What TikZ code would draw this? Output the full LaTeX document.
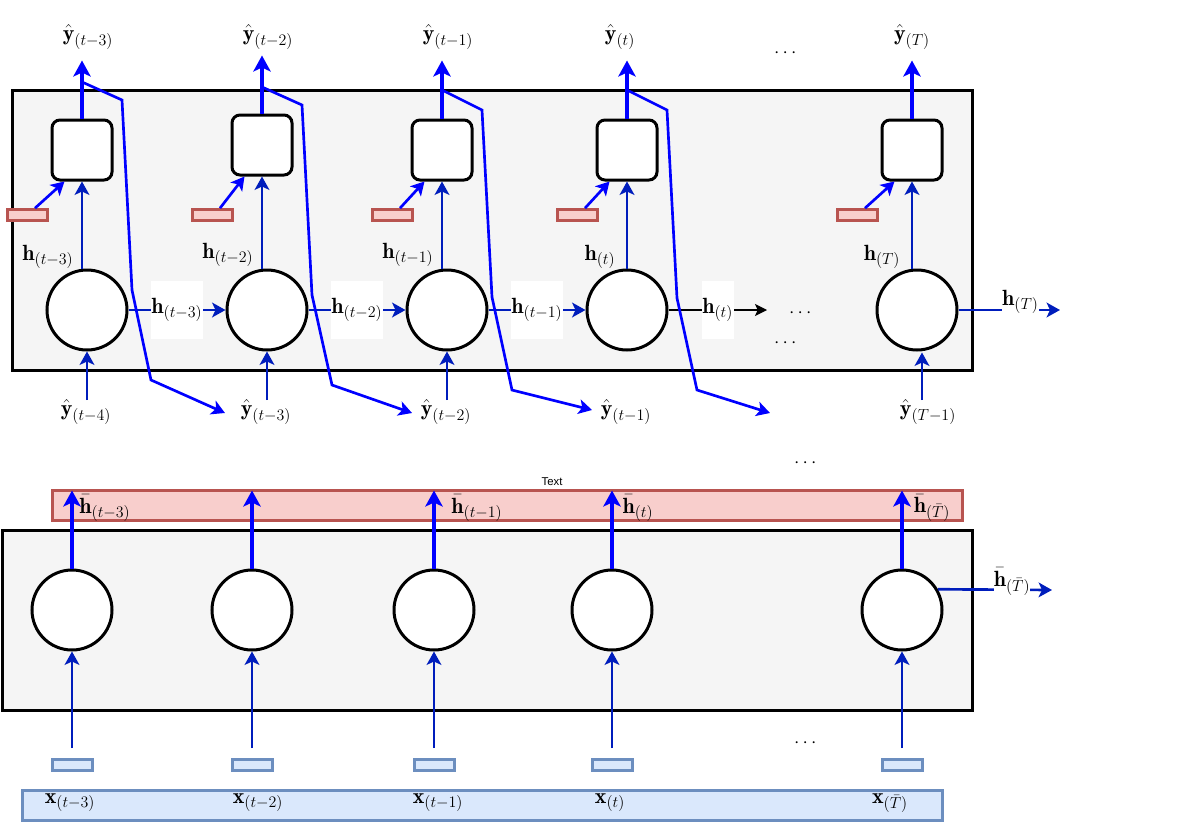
\documentclass[tikz,border=0pt]{standalone}
\usepackage{amsmath}
\usepackage{fontspec}
\newfontfamily\labelsans{Liberation Sans}
\usetikzlibrary{arrows.meta,calc}
\DeclareMathSizes{16.5}{16.5}{11.8}{8.5}

\definecolor{frameFill}{HTML}{F5F5F5}
\definecolor{redFill}{HTML}{F8CECC}
\definecolor{redLine}{HTML}{B85450}
\definecolor{blueFill}{HTML}{DAE8FC}
\definecolor{blueLine}{HTML}{6C8EBF}
\definecolor{darkBlue}{HTML}{001DBC}
\definecolor{pureBlue}{HTML}{0000FF}

\tikzset{
  frame/.style={draw=black, line width=2.25pt, fill=frameFill},
  cell/.style={circle, draw=black, line width=2.25pt, fill=white, minimum size=60pt, inner sep=0pt},
  gate/.style={rectangle, rounded corners=6pt, draw=black, line width=2.25pt, fill=white, minimum size=45pt, inner sep=0pt},
  redtok/.style={rectangle, draw=redLine, fill=redFill, line width=2.25pt, minimum width=30pt, minimum height=8pt, inner sep=0pt},
  bluetok/.style={rectangle, draw=blueLine, fill=blueFill, line width=2.25pt, minimum width=30pt, minimum height=8pt, inner sep=0pt},
  redbar/.style={rectangle, draw=redLine, fill=redFill, line width=2.25pt, inner sep=0pt},
  bluebar/.style={rectangle, draw=blueLine, fill=blueFill, line width=2.25pt, inner sep=0pt},
  thinarrow/.style={draw=darkBlue, line width=2pt, -{Stealth[length=10pt,width=11pt,inset=2.5pt]}},
  thickarrow/.style={draw=pureBlue, line width=3pt, -{Stealth[length=12pt,width=13pt,inset=3pt]}},
  feedback/.style={draw=pureBlue, line width=2pt, -{Stealth[length=10pt,width=11pt,inset=2.5pt]}},
  lab/.style={font=\fontsize{16.5}{18}\selectfont, inner sep=1pt},
  hlab/.style={lab, fill=white, inner xsep=0.5pt, minimum height=43.5pt},
  outlab/.style={lab, fill=white, inner xsep=0pt, inner ysep=1pt},
  dots/.style={font=\fontsize{15}{17}\selectfont, inner sep=0pt},
}

\begin{document}
\begin{tikzpicture}[x=0.75pt, y=-0.75pt]
\useasboundingbox (0,0) rectangle (1183,835);

% ---------------- decoder (top) ----------------
\draw[frame] (12,90) rectangle (972,370);

\foreach \i/\cx/\bx/\by/\rx in {1/87/82/150/27, 2/267/262/145/212, 3/447/442/150/392, 4/627/627/150/577, 5/917/912/150/857} {
  \node[cell] (c\i) at (\cx,310) {};
  \node[gate] (g\i) at (\bx,\by) {};
  \node[redtok] (r\i) at (\rx,215) {};
}

\foreach \i in {1,...,5} {
  \draw[thinarrow] (g\i.south |- c\i.north) -- (g\i.south);
  \draw[feedback] ($(r\i.north)+(8,0)$) -- ($(g\i.south west)+(14,0)$);
  \coordinate (o\i) at ($(g\i.north)+(0,-58)$);
  \draw[thickarrow] (g\i.north) -- (o\i);
}

% output labels
\node[lab] (t1) at (88,37)  {$\hat{\mathbf{y}}_{(t-3)}$};
\node[lab] (t2) at (268,37) {$\hat{\mathbf{y}}_{(t-2)}$};
\node[lab] (t3) at (448,37) {$\hat{\mathbf{y}}_{(t-1)}$};
\node[lab] (t4) at (620,37) {$\hat{\mathbf{y}}_{(t)}$};
\node[lab] (t5) at (912,37) {$\hat{\mathbf{y}}_{(T)}$};

% hidden state labels
\node[lab] at (48,257)  {$\mathbf{h}_{(t-3)}$};
\node[lab] at (228,255) {$\mathbf{h}_{(t-2)}$};
\node[lab] at (408,255) {$\mathbf{h}_{(t-1)}$};
\node[lab] at (600,257) {$\mathbf{h}_{(t)}$};
\node[lab] at (882,257) {$\mathbf{h}_{(T)}$};

% input labels
\node[lab] (u1) at (86,412)  {$\hat{\mathbf{y}}_{(t-4)}$};
\node[lab] (u2) at (266,412) {$\hat{\mathbf{y}}_{(t-3)}$};
\node[lab] (u3) at (446,412) {$\hat{\mathbf{y}}_{(t-2)}$};
\node[lab] (u4) at (626,412) {$\hat{\mathbf{y}}_{(t-1)}$};
\node[lab] (u5) at (928,412) {$\hat{\mathbf{y}}_{(T-1)}$};

\foreach \i in {1,2,3} {
  \draw[thinarrow] (c\i.south |- 0,400) -- (c\i.south);
}
\draw[thinarrow] ($(c5.south |- 0,400)+(5,0)$) -- ($(c5.south)+(5,1)$);

% recurrent connections
\draw[thinarrow] (c1) -- node[hlab] {$\mathbf{h}_{(t-3)}$} (c2);
\draw[thinarrow] (c2) -- node[hlab] {$\mathbf{h}_{(t-2)}$} (c3);
\draw[thinarrow] (c3) -- node[hlab] {$\mathbf{h}_{(t-1)}$} (c4);
\coordinate (e4) at (767,310);
\draw[black, line width=0.9pt, -{Stealth[length=9pt,width=9pt,inset=2pt]}] (c4) -- node[hlab] {$\mathbf{h}_{(t)}$} (e4);
\coordinate (e5) at (1060,310);
\draw[thinarrow] (c5) -- node[outlab, pos=0.61, yshift=6pt] {$\mathbf{h}_{(T)}$} (e5);

% feeding predictions back as next inputs
\coordinate (k1) at (225,413);
\coordinate (k2) at (412,413);
\coordinate (k3) at (592,410);
\coordinate (k4) at (770,413);
\draw[feedback] (o1 |- 0,82) -- (122,100) -- (132,290) -- (151,380) -- (k1);
\draw[feedback] (o2 |- 0,87) -- (302,105) -- (312,295) -- (332,385) -- (k2);
\draw[feedback] (o3 |- 0,90) -- (482,110) -- (492,297) -- (512,390) -- (k3);
\draw[feedback] (o4 |- 0,90) -- (667,110) -- (677,298) -- (697,390) -- (k4);

\node[dots] at (802,313) {$\cdots$};
\node[dots] at (787,343) {$\cdots$};
\node[dots] at (787,53)  {$\cdots$};

% ---------------- encoder (bottom) ----------------
\draw[frame] (2,530) rectangle (972,710);

\node[redbar, minimum width=682.5pt, minimum height=22.5pt] (enc) at (507,505) {};
\node[font=\labelsans\fontsize{8.5}{10}\selectfont, inner sep=0pt] at (552,482) {Text};

\node[bluebar, minimum width=690pt, minimum height=22.5pt] (xin) at (482,805) {};

\foreach \i/\cx in {1/72, 2/252, 3/434, 4/612, 5/902} {
  \node[cell] (d\i) at (\cx,610) {};
  \node[bluetok] (s\i) at (\cx,765) {};
  \draw[thickarrow] (d\i.north) -- ($(d\i.north |- enc.north)+(0,2)$);
  \draw[thinarrow] ($(s\i.north)+(0,-10)$) -- (d\i.south);
}

\node[lab] at (105,508) {$\bar{\mathbf{h}}_{(t-3)}$};
\node[lab] at (477,508) {$\bar{\mathbf{h}}_{(t-1)}$};
\node[lab] at (638,508) {$\bar{\mathbf{h}}_{(t)}$};
\node[lab] at (932,508) {$\bar{\mathbf{h}}_{(\bar{T})}$};

\coordinate (e6) at (1052,590);
\draw[thinarrow] (d5.30) -- node[outlab, pos=0.65, yshift=6pt] {$\bar{\mathbf{h}}_{(\bar{T})}$} (e6);

\node[lab] at (70,803)  {$\mathbf{x}_{(t-3)}$};
\node[lab] at (258,803) {$\mathbf{x}_{(t-2)}$};
\node[lab] at (438,803) {$\mathbf{x}_{(t-1)}$};
\node[lab] at (610,803) {$\mathbf{x}_{(t)}$};
\node[lab] at (890,803) {$\mathbf{x}_{(\bar{T})}$};

\node[dots] at (807,463) {$\cdots$};
\node[dots] at (807,743) {$\cdots$};
\end{tikzpicture}
\end{document}
